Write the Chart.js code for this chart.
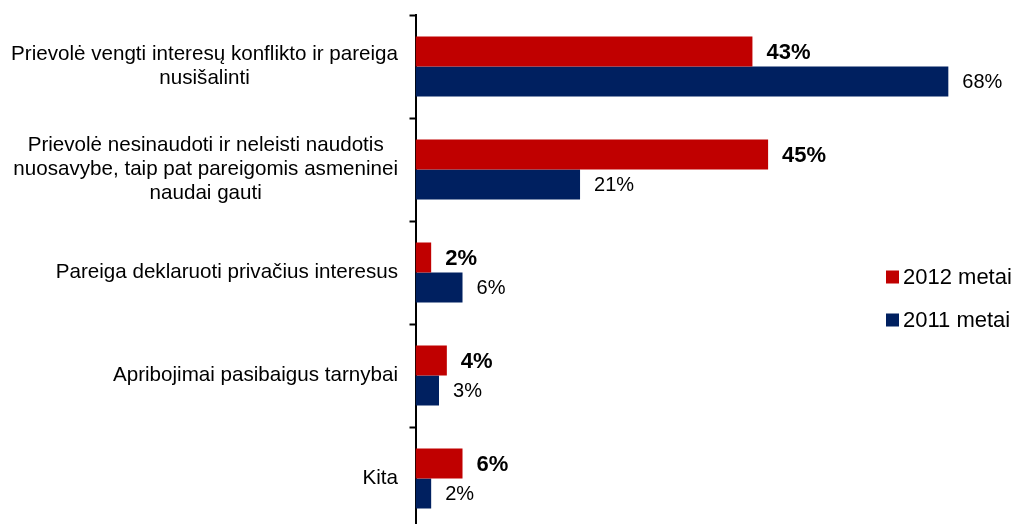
<!DOCTYPE html>
<html>
<head>
<meta charset="utf-8">
<script src="https://cdn.jsdelivr.net/npm/chart.js@4/dist/chart.umd.min.js"></script>
<style>
  html, body { margin: 0; padding: 0; background: #fff; overflow: hidden; }
  #wrap { position: relative; width: 1018px; height: 540px; }
</style>
</head>
<body>
<div id="wrap"><canvas id="c"></canvas></div>
<script>
const categories = [
  ["Prievolė vengti interesų konflikto ir pareiga", "nusišalinti"],
  ["Prievolė nesinaudoti ir neleisti naudotis", "nuosavybe, taip pat pareigomis asmeninei", "naudai gauti"],
  ["Pareiga deklaruoti privačius interesus"],
  ["Apribojimai pasibaigus tarnybai"],
  ["Kita"]
];
const seriesNames = ["2012 metai", "2011 metai"];
const values2012 = [43, 45, 2, 4, 6];
const values2011 = [68, 21, 6, 3, 2];
const seriesColors = ["#C00000", "#002060"];

const FONT = "'Liberation Sans', Arial, sans-serif";

const valueLabels = {
  id: 'valueLabels',
  afterDatasetsDraw(chart) {
    const ctx = chart.ctx;
    ctx.save();
    chart.data.datasets.forEach((ds, di) => {
      const meta = chart.getDatasetMeta(di);
      ctx.font = (di === 0 ? 'bold 22px ' : '20px ') + FONT;
      ctx.fillStyle = '#000';
      ctx.textAlign = 'left';
      ctx.textBaseline = 'middle';
      meta.data.forEach((bar, i) => {
        ctx.fillText(ds.data[i] + '%', bar.x + 14, bar.y + 1);
      });
    });
    ctx.restore();
  }
};

const catLabels = {
  id: 'catLabels',
  afterDraw(chart) {
    const ctx = chart.ctx;
    const ys = chart.scales.y;
    ctx.save();
    ctx.font = '20.6px ' + FONT;
    ctx.fillStyle = '#000';
    ctx.textAlign = 'center';
    ctx.textBaseline = 'middle';
    const right = 398;
    const lh = 24;
    chart.data.labels.forEach((lines, i) => {
      const yc = ys.getPixelForValue(i);
      let maxW = 0;
      lines.forEach(l => { maxW = Math.max(maxW, ctx.measureText(l).width); });
      const cx = right - maxW / 2;
      const y0 = yc - (lines.length - 1) * lh / 2;
      lines.forEach((l, k) => ctx.fillText(l, cx, y0 + k * lh));
    });
    ctx.restore();
  }
};

const customLegend = {
  id: 'customLegend',
  afterDraw(chart) {
    const ctx = chart.ctx;
    ctx.save();
    ctx.font = '22px ' + FONT;
    ctx.textAlign = 'left';
    ctx.textBaseline = 'middle';
    const ys = [277, 320];
    chart.data.datasets.forEach((ds, i) => {
      ctx.fillStyle = ds.backgroundColor;
      ctx.fillRect(886, ys[i] - 6.5, 13, 13);
      ctx.fillStyle = '#000';
      ctx.fillText(ds.label, 903, ys[i] + 1);
    });
    ctx.restore();
  }
};

new Chart(document.getElementById('c'), {
  type: 'bar',
  data: {
    labels: categories,
    datasets: [
      { label: seriesNames[0], data: values2012, backgroundColor: seriesColors[0] },
      { label: seriesNames[1], data: values2011, backgroundColor: seriesColors[1] }
    ]
  },
  options: {
    indexAxis: 'y',
    responsive: true,
    maintainAspectRatio: false,
    animation: false,
    layout: { padding: { top: 15, right: 54, bottom: 10, left: 0 } },
    datasets: { bar: { categoryPercentage: 60 / 103, barPercentage: 1.0 } },
    plugins: { legend: { display: false }, tooltip: { enabled: false } },
    scales: {
      x: { display: false, min: 0, max: 70 },
      y: {
        offset: true,
        ticks: { display: false },
        grid: { display: true, drawOnChartArea: false, drawTicks: true, tickLength: 6, tickWidth: 2, color: '#000', offset: true },
        border: { display: true, color: '#000', width: 2 },
        afterFit(scale) { scale.width = 415.5; }
      }
    }
  },
  plugins: [valueLabels, catLabels, customLegend]
});
</script>
</body>
</html>
